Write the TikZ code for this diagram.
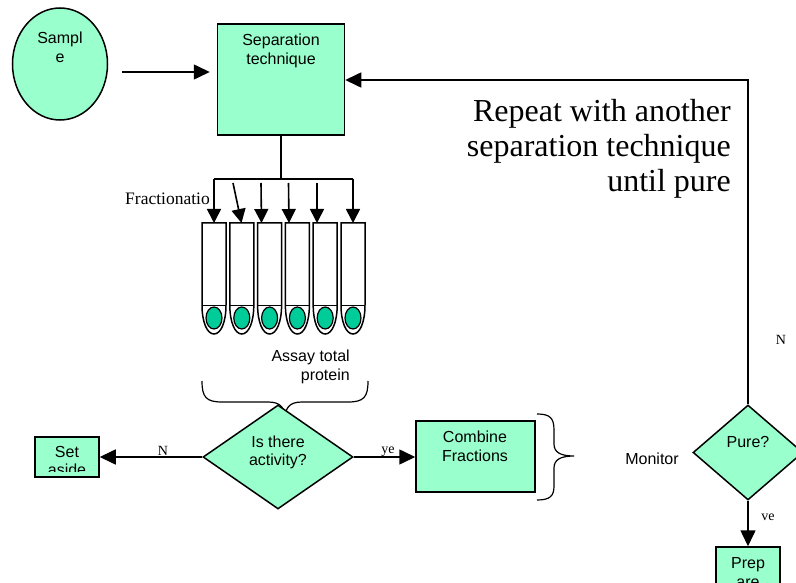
\documentclass[tikz,border=0pt]{standalone}
\usepackage{fontspec}
\setmainfont{Liberation Serif}
\setsansfont{Liberation Sans}
\usetikzlibrary{shapes.geometric,arrows.meta,positioning}

\definecolor{mint}{HTML}{99FFCC}
\definecolor{gel}{HTML}{00CC99}

\begin{document}
\begin{tikzpicture}[x=1pt, y=-1pt,
    box/.style={draw, line width=1.5pt, fill=mint, rectangle, inner sep=0pt},
    decision/.style={draw, line width=1.5pt, fill=mint, diamond, inner sep=0pt},
    txt/.style={font=\sffamily\fontsize{16}{18.5}\selectfont, align=center, inner sep=0pt},
    lbl/.style={font=\rmfamily\fontsize{14}{16}\selectfont, inner sep=0pt},
    flow/.style={line width=1.6pt, -{Triangle[length=16pt,width=15pt]}},
    pipe/.style={line width=1.6pt},
    brace/.style={line width=1.2pt},
  ]
    \clip (0,0) rectangle (796,583);
    \useasboundingbox (0,0) rectangle (796,583);

    % sample goes into the first column
    \node[box, ellipse, minimum width=95, minimum height=112] (sample) at (60,64) {};
    \node[txt, anchor=north] (sampletxt) at (60,32) {Sampl\\e};
    \node[box, minimum width=127, minimum height=111] (sep) at (281,79.5) {};
    \node[txt, anchor=north] (septxt) at (281,34) {Separation\\technique};
    \coordinate (feed) at (122,72);
    \draw[flow, shorten >=7pt] (feed) -- (feed -| sep.west);

    \node[font=\rmfamily\fontsize{32}{35}\selectfont, align=right, anchor=north east, inner sep=0pt]
        (repeat) at (731,99) {Repeat with another\\separation technique\\until pure};

    % fractions collected in tubes
    \coordinate (split) at (281,179);
    \coordinate (fl) at (214,179);
    \coordinate (fr) at (353,179);
    \draw[pipe] (sep.south) -- (split);
    \draw[pipe] (fl) -- (fr);
    \node[lbl, font=\rmfamily\fontsize{17.5}{20}\selectfont, anchor=base west] (frac) at (125,205) {Fractionatio};

    \foreach \i in {0,...,5} {
        \pgfmathsetmacro\cx{214+27.8*\i}
        \draw[line width=1.5pt, fill=white] (\cx-12,223) -- (\cx+12,223) -- (\cx+12,305)
            .. controls (\cx+12,322) and (\cx+7,334) .. (\cx,334)
            .. controls (\cx-7,334) and (\cx-12,322) .. (\cx-12,305) -- cycle;
        \draw[line width=1pt] (\cx-12,305) -- (\cx+12,305);
        \draw[line width=1.2pt, fill=gel] (\cx,318) ellipse (8 and 11);
    }
    \foreach \sx/\sy/\ex in {214/179/214, 233/183/241.5, 261/183/261.5, 288.5/183/289, 317/183/317, 353/179/353}
        \draw[pipe, -{Triangle[length=14pt,width=14pt]}] (\sx,\sy) -- (\ex,223);

    \node[txt, align=right, anchor=north east] (assay) at (350,350) {Assay total\\protein};
    \draw[brace] (202,381) .. controls (202,397) and (206,402) .. (222,402) -- (268,402)
        .. controls (281,402) and (285,408) .. (285,420)
        .. controls (285,408) and (289,402) .. (302,402) -- (348,402)
        .. controls (364,402) and (368,397) .. (368,381);

    % activity test
    \node[decision, minimum width=150, minimum height=104] (act) at (278,457) {};
    \node[txt] (acttxt) at (278,452.5) {Is there\\activity?};
    \node[box, minimum width=64, minimum height=40,
        path picture={
            \clip ([yshift=6pt]path picture bounding box.south west) rectangle (path picture bounding box.north east);
            \node[txt, anchor=north] at ([yshift=-3pt]path picture bounding box.north) {Set\\aside};}]
        (aside) at (67,457) {};
    \draw[flow] (act.west) -- (aside.east);
    \node[lbl] (no1) at (163,451) {N};

    \node[box, minimum width=119, minimum height=71] (comb) at (475.5,456.5) {};
    \node[txt] (combtxt) at (475,446.5) {Combine\\Fractions};
    \draw[flow] (act.east) -- (act.east -| comb.west);
    \node[lbl] (yes1) at (388,452) {ye};
    \draw[brace] (537,414) .. controls (550,414) and (554,418) .. (554,430) -- (554,444)
        .. controls (554,452) and (560,456) .. (574,456)
        .. controls (560,456) and (554,460) .. (554,468) -- (554,486)
        .. controls (554,496) and (550,500) .. (537,500);

    % purity check and loop back
    \node[txt] (monitor) at (652,459) {Monitor};
    \node[decision, minimum width=110, minimum height=95] (pure) at (748,452.5) {};
    \node[txt] (puretxt) at (748,442) {Pure?};
    \coordinate (loop) at (748,80);
    \draw[flow] (pure.north) -- (loop) -- (loop -| sep.east);
    \node[lbl] (no2) at (781,340) {N};

    \node[box, minimum width=64, minimum height=44,
        path picture={\node[txt, anchor=north] at ([yshift=-3pt]path picture bounding box.north) {Prep\\are};}]
        (prep) at (748,569) {};
    \draw[flow] (pure.south) -- (prep.north);
    \node[lbl] (yes2) at (768,517) {ve};
\end{tikzpicture}
\end{document}
